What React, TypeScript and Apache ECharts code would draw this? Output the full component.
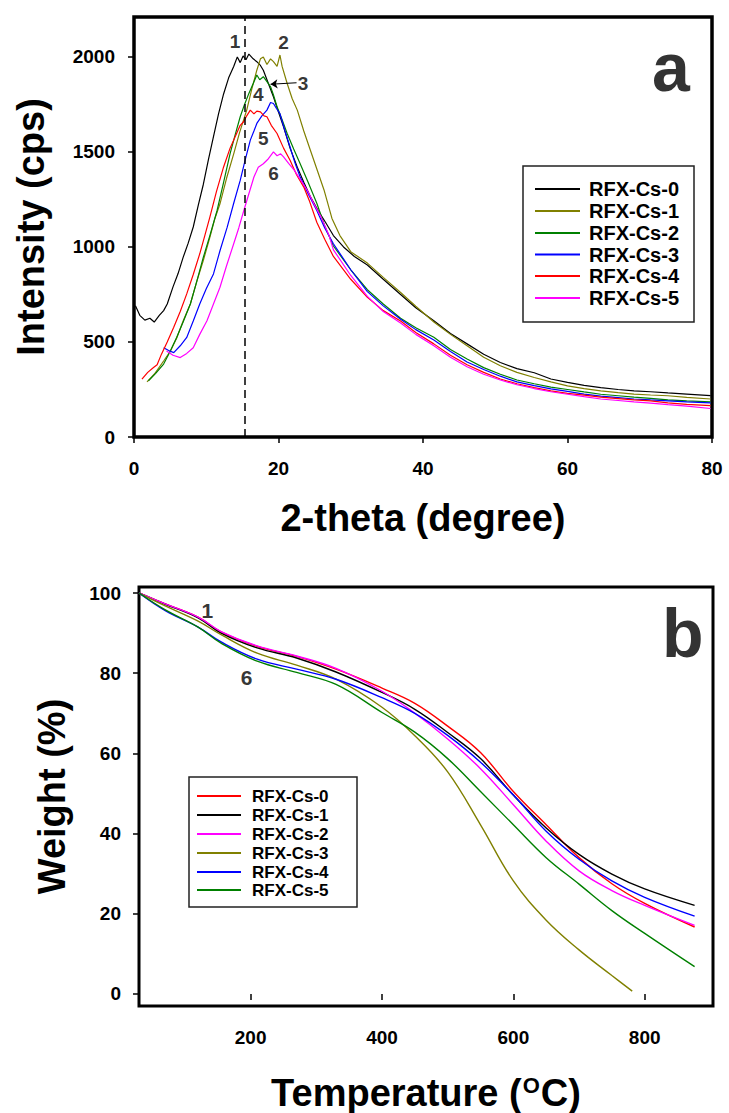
import React, { useEffect, useRef } from 'react';
import * as echarts from 'echarts';

const FONT = '"Liberation Sans", Arial, Helvetica, sans-serif';

const seriesNames = ['RFX-Cs-0', 'RFX-Cs-1', 'RFX-Cs-2', 'RFX-Cs-3', 'RFX-Cs-4', 'RFX-Cs-5'];
const xrdColors = ['#000000', '#808000', '#008000', '#0000ff', '#ff0000', '#ff00ff'];
const tgaColors = ['#ff0000', '#000000', '#ff00ff', '#808000', '#0000ff', '#008000'];

const xrdTicksX = [0, 20, 40, 60, 80];
const xrdTicksY = [0, 500, 1000, 1500, 2000];
const tgaTicksX = [200, 400, 600, 800];
const tgaTicksY = [0, 20, 40, 60, 80, 100];

// XRD (panel a): [2-theta, intensity]
const xrd0: number[][] = [[0.2,690],[0.8,640],[1.5,615],[2.2,625],[2.8,605],[3.5,640],[4.1,665],[4.6,700],[5.4,790],[6.1,860],[6.8,945],[7.5,1020],[8.2,1105],[8.9,1220],[9.6,1330],[10.3,1460],[11.0,1580],[11.7,1700],[12.4,1805],[13.1,1890],[13.8,1950],[14.3,2000],[14.7,1970],[15.1,2005],[15.5,1985],[15.9,2015],[16.5,1990],[17.0,1975],[17.5,1955],[17.9,1930],[18.6,1860],[19.3,1790],[20.0,1710],[20.7,1632],[21.6,1520],[22.6,1420],[23.5,1340],[24.4,1265],[25.5,1190],[26.5,1130],[27.6,1060],[29.0,1000],[30.5,950],[32.3,905],[34.5,830],[36.9,750],[39.0,680],[41.5,612],[43.8,545],[46.1,490],[48.4,435],[50.7,392],[53.0,360],[55.4,338],[57.7,305],[60.0,287],[62.3,272],[64.6,260],[67.0,250],[69.2,243],[71.5,238],[73.9,232],[76.5,226],[79.8,218]];
const xrd1: number[][] = [[1.8,290],[2.8,330],[4.1,400],[5.0,450],[5.9,520],[6.8,610],[7.8,700],[8.7,820],[9.6,930],[10.5,1050],[11.2,1150],[11.9,1227],[12.8,1360],[13.8,1490],[14.6,1600],[15.6,1720],[16.3,1830],[17.0,1930],[17.5,1990],[17.9,2000],[18.4,1960],[18.9,1990],[19.3,1975],[19.8,1950],[20.2,2010],[20.5,1950],[21.2,1860],[21.9,1780],[22.6,1720],[23.5,1610],[24.4,1510],[25.4,1400],[26.3,1300],[27.4,1150],[28.5,1060],[30.0,975],[32.3,915],[34.5,840],[36.9,760],[39.0,688],[41.5,605],[43.8,540],[46.1,480],[48.4,420],[50.7,375],[53.0,340],[55.4,313],[57.7,290],[60.0,269],[62.3,255],[64.6,243],[67.0,233],[69.2,226],[71.5,221],[73.9,217],[76.5,208],[79.8,200]];
const xrd2: number[][] = [[2.0,296],[3.0,335],[4.1,384],[5.0,450],[5.9,524],[6.8,605],[7.8,700],[8.7,820],[9.6,946],[10.5,1060],[11.5,1192],[12.4,1340],[13.3,1491],[14.0,1590],[14.7,1685],[15.3,1750],[15.9,1808],[16.5,1860],[17.0,1905],[17.4,1880],[17.9,1896],[18.4,1870],[18.9,1843],[19.3,1800],[19.8,1738],[20.5,1670],[21.2,1597],[22.1,1515],[23.0,1438],[24.1,1340],[25.3,1230],[26.4,1110],[27.6,1005],[30.0,880],[32.3,775],[34.5,700],[36.9,625],[39.0,575],[41.5,525],[43.8,460],[46.1,410],[48.4,365],[50.7,330],[53.0,300],[55.4,280],[57.7,262],[60.0,250],[62.3,237],[64.6,225],[67.0,217],[69.2,210],[71.5,203],[73.9,195],[76.5,190],[79.8,185]];
const xrd3: number[][] = [[4.1,470],[4.8,455],[5.5,444],[6.4,480],[7.3,524],[8.2,610],[9.1,700],[10.0,780],[11.0,858],[11.9,980],[12.9,1104],[13.8,1230],[14.7,1350],[15.4,1460],[16.1,1562],[16.6,1610],[17.0,1650],[17.7,1690],[18.4,1720],[18.9,1760],[19.3,1755],[19.7,1730],[20.2,1702],[20.9,1610],[21.6,1526],[22.3,1440],[23.0,1368],[24.1,1280],[25.3,1192],[26.4,1100],[27.6,1017],[30.0,880],[32.3,765],[34.5,690],[36.9,620],[39.0,565],[41.5,510],[43.8,450],[46.1,395],[48.4,355],[50.7,320],[53.0,290],[55.4,270],[57.7,253],[60.0,240],[62.3,226],[64.6,215],[67.0,207],[69.2,200],[71.5,195],[73.9,190],[76.5,185],[79.8,180]];
const xrd4: number[][] = [[1.1,304],[1.9,340],[2.7,366],[3.2,380],[3.8,436],[4.6,500],[5.5,577],[6.4,660],[7.3,753],[8.2,855],[9.1,964],[9.8,1060],[10.5,1157],[11.4,1290],[12.4,1421],[13.3,1520],[14.2,1597],[14.7,1640],[15.2,1660],[15.6,1690],[16.1,1720],[16.6,1700],[17.0,1715],[17.5,1711],[18.0,1690],[18.4,1685],[19.0,1640],[19.8,1597],[20.7,1520],[21.6,1456],[22.5,1380],[23.5,1315],[24.3,1240],[25.3,1130],[26.4,1040],[27.6,950],[30.0,830],[32.3,735],[34.5,665],[36.9,610],[39.0,550],[41.5,490],[43.8,430],[46.1,380],[48.4,340],[50.7,305],[53.0,280],[55.4,260],[57.7,243],[60.0,230],[62.3,220],[64.6,210],[67.0,202],[69.2,195],[71.5,190],[73.9,180],[76.5,172],[79.8,165]];
const xrd5: number[][] = [[4.5,453],[5.4,430],[6.4,418],[7.3,440],[8.2,470],[9.1,540],[10.1,612],[11.0,700],[11.9,788],[12.8,900],[13.8,1017],[14.5,1100],[15.2,1192],[15.9,1280],[16.6,1368],[17.2,1420],[17.9,1438],[18.5,1460],[19.3,1500],[19.8,1480],[20.3,1490],[20.7,1474],[21.4,1440],[22.2,1403],[23.1,1350],[24.0,1297],[25.0,1220],[25.9,1157],[27.0,1060],[27.6,985],[30.0,850],[32.3,740],[34.5,660],[36.9,600],[39.0,540],[41.5,480],[43.8,420],[46.1,370],[48.4,330],[50.7,300],[53.0,275],[55.4,255],[57.7,238],[60.0,225],[62.3,212],[64.6,200],[67.0,192],[69.2,185],[71.5,178],[73.9,170],[76.5,162],[79.8,150]];
const xrdData = [xrd0, xrd1, xrd2, xrd3, xrd4, xrd5];

// TGA (panel b): temperature grid and weight values
const tgaT = [30, 70, 120, 155, 210, 270, 330, 400, 450, 500, 550, 600, 650, 700, 750, 800, 876];
const tgaT3 = [30, 70, 120, 155, 210, 270, 330, 400, 450, 500, 550, 600, 650, 700, 750, 781];
const tga0 = [100, 97.3, 94.0, 90.3, 86.7, 84.2, 81.0, 76.3, 72.5, 66.8, 60.2, 50.5, 42.2, 34.0, 27.5, 22.6, 16.7];
const tga1 = [100, 97.2, 93.8, 90.0, 86.3, 83.8, 80.3, 75.2, 71.0, 65.2, 58.7, 49.6, 41.4, 34.8, 29.9, 26.2, 22.1];
const tga2 = [100, 97.3, 94.0, 90.4, 86.8, 84.3, 81.2, 75.5, 70.0, 63.6, 56.2, 47.2, 38.1, 30.7, 25.8, 22.1, 17.1];
const tga3 = [100, 96.8, 93.0, 89.6, 85.0, 82.0, 78.5, 71.5, 64.4, 55.4, 42.2, 28.2, 18.4, 11.0, 4.6, 0.7];
const tga4 = [100, 95.6, 91.5, 87.8, 83.5, 81.0, 78.5, 73.9, 70.0, 64.5, 57.8, 49.6, 40.6, 33.6, 28.2, 24.1, 19.4];
const tga5 = [100, 95.8, 91.5, 87.5, 83.0, 80.2, 77.2, 70.2, 65.3, 58.7, 50.5, 42.2, 34.0, 27.4, 20.8, 15.1, 6.8];
const tgaValues = [tga0, tga1, tga2, tga3, tga4, tga5];
const tgaTemps = [tgaT, tgaT, tgaT, tgaT3, tgaT, tgaT];

// annotations
const xrdNoteText = ['1', '2', '3', '4', '5', '6'];
const xrdNoteX = [14.0, 20.7, 23.4, 17.2, 17.9, 19.3];
const xrdNoteY = [2081, 2075, 1861, 1800, 1571, 1386];
const xrdDashX = 15.3;
const xrdArrow = [[22.5, 1864], [18.9, 1856]];
const tgaNoteText = ['1', '6'];
const tgaNoteX = [134, 194];
const tgaNoteY = [95.7, 78.9];
const panelLetters = ['a', 'b'];

export default function App() {
  const ref = useRef<HTMLDivElement>(null);
  useEffect(() => {
    if (!ref.current) return;
    const chart = echarts.init(ref.current, undefined, { renderer: 'svg' });
    const tickLabel = { fontSize: 19, fontWeight: 'bold', color: '#000', fontFamily: FONT, formatter: (v: number) => String(v) };
    const titleStyle = { fontSize: 38, fontWeight: 'bold', color: '#000', fontFamily: FONT };
    const tickStyle = { show: true, inside: false, length: 6, lineStyle: { color: '#000', width: 1.5 } };

    const series: any[] = [];
    xrdData.forEach((d, i) => {
      series.push({
        type: 'line', name: seriesNames[i], xAxisIndex: 0, yAxisIndex: 0,
        data: d, showSymbol: false, symbol: 'none', smooth: false,
        lineStyle: { color: xrdColors[i], width: 1.2 }, itemStyle: { color: xrdColors[i] },
        z: 3,
        markLine: i === 0 ? {
          silent: true, symbol: 'none', label: { show: false },
          lineStyle: { type: [8, 5], color: '#000', width: 1.5 },
          data: [{ xAxis: xrdDashX }],
        } : undefined,
      });
    });
    series.push({
      type: 'scatter', xAxisIndex: 0, yAxisIndex: 0, symbolSize: 0, z: 5,
      data: xrdNoteText.map((t, i) => ({ name: t, value: [xrdNoteX[i], xrdNoteY[i]] })),
      label: { show: true, position: 'inside', formatter: '{b}', fontSize: 19, fontWeight: 'bold', color: '#000', fontFamily: FONT },
      markLine: {
        silent: true, symbol: ['none', 'arrow'], symbolSize: 7, label: { show: false },
        lineStyle: { color: '#000', width: 1.2, type: 'solid' },
        data: [[{ coord: xrdArrow[0] }, { coord: xrdArrow[1] }]],
      },
    });
    series.push({
      type: 'scatter', xAxisIndex: 0, yAxisIndex: 0, symbolSize: 0, z: 5,
      data: [{ name: panelLetters[0], value: [74.3, 1949] }],
      label: { show: true, position: 'inside', formatter: '{b}', fontSize: 68, fontWeight: 'bold', color: '#000', fontFamily: FONT },
    });
    tgaValues.forEach((v, i) => {
      series.push({
        type: 'line', name: seriesNames[i], xAxisIndex: 1, yAxisIndex: 1,
        data: v.map((w, k) => [tgaTemps[i][k], w]), showSymbol: false, symbol: 'none', smooth: 0.4,
        lineStyle: { color: tgaColors[i], width: 1.4 }, itemStyle: { color: tgaColors[i] }, z: 3,
      });
    });
    series.push({
      type: 'scatter', xAxisIndex: 1, yAxisIndex: 1, symbolSize: 0, z: 5,
      data: tgaNoteText.map((t, i) => ({ name: t, value: [tgaNoteX[i], tgaNoteY[i]] })),
      label: { show: true, position: 'inside', formatter: '{b}', fontSize: 21, fontWeight: 'bold', color: '#000', fontFamily: FONT },
    });
    series.push({
      type: 'scatter', xAxisIndex: 1, yAxisIndex: 1, symbolSize: 0, z: 5,
      data: [{ name: panelLetters[1], value: [858, 90] }],
      label: { show: true, position: 'inside', formatter: '{b}', fontSize: 68, fontWeight: 'bold', color: '#000', fontFamily: FONT },
    });

    const legendGroup = (x: number, y: number, w: number, h: number, rows: number[], lx0: number, lx1: number, tx: number, colors: string[], fs: number) => ({
      type: 'group', children: [
        { type: 'rect', shape: { x, y, width: w, height: h }, style: { fill: '#fff', stroke: '#222', lineWidth: 1.5 }, z: 10 },
        ...rows.flatMap((ry, i) => [
          { type: 'line', shape: { x1: lx0, y1: ry, x2: lx1, y2: ry }, style: { stroke: colors[i], lineWidth: 2 }, z: 11 },
          { type: 'text', x: tx, y: ry, style: { text: seriesNames[i], fill: '#000', fontSize: fs, fontWeight: 'bold', fontFamily: FONT, verticalAlign: 'middle', align: 'left' }, z: 11 },
        ]),
      ],
    });

    chart.setOption({
      animation: false,
      backgroundColor: '#fff',
      grid: [
        { left: 134, top: 17, width: 578, height: 420, show: true, borderColor: '#000', borderWidth: 3.5, backgroundColor: 'transparent', containLabel: false },
        { left: 139, top: 587, width: 574, height: 423, show: true, borderColor: '#000', borderWidth: 3, backgroundColor: 'transparent', containLabel: false },
      ],
      xAxis: [
        {
          type: 'value', gridIndex: 0, min: 0, max: 80,
          axisLine: { show: false }, splitLine: { show: false },
          axisTick: { ...tickStyle, customValues: xrdTicksX },
          axisLabel: { ...tickLabel, margin: 22, customValues: xrdTicksX },
          name: '2-theta (degree)', nameLocation: 'middle', nameGap: 62, nameTextStyle: titleStyle,
        },
        {
          type: 'value', gridIndex: 1, min: 30, max: 904,
          axisLine: { show: false }, splitLine: { show: false },
          axisTick: { ...tickStyle, customValues: tgaTicksX },
          axisLabel: { ...tickLabel, margin: 22, customValues: tgaTicksX },
          name: 'Temperature ({sup|O}C)', nameLocation: 'middle', nameGap: 68,
          nameTextStyle: { ...titleStyle, rich: { sup: { fontSize: 22, fontWeight: 'bold', fontFamily: FONT, color: '#000', verticalAlign: 'top', padding: [0, 1, 0, 1] } } },
        },
      ],
      yAxis: [
        {
          type: 'value', gridIndex: 0, min: 0, max: 2210,
          axisLine: { show: false }, splitLine: { show: false },
          axisTick: { ...tickStyle, customValues: xrdTicksY },
          axisLabel: { ...tickLabel, margin: 19, customValues: xrdTicksY },
          name: 'Intensity (cps)', nameLocation: 'middle', nameGap: 84, nameRotate: 90, nameTextStyle: titleStyle,
        },
        {
          type: 'value', gridIndex: 1, min: -3, max: 101.5,
          axisLine: { show: false }, splitLine: { show: false },
          axisTick: { ...tickStyle, customValues: tgaTicksY },
          axisLabel: { ...tickLabel, margin: 18, customValues: tgaTicksY },
          name: 'Weight (%)', nameLocation: 'middle', nameGap: 68, nameRotate: 90, nameTextStyle: titleStyle,
        },
      ],
      series,
      graphic: [
        legendGroup(523, 166, 171, 156, [189, 211, 233, 254.5, 276, 298], 535, 580, 589, xrdColors, 20),
        legendGroup(189, 777, 168, 130, [796, 815, 834, 853, 872, 890], 197, 241, 252, tgaColors, 17),
      ],
    });
    return () => chart.dispose();
  }, []);
  return <div ref={ref} style={{ position: 'fixed', left: 0, top: 0, width: 729, height: 1113, background: '#fff' }} />;
}
